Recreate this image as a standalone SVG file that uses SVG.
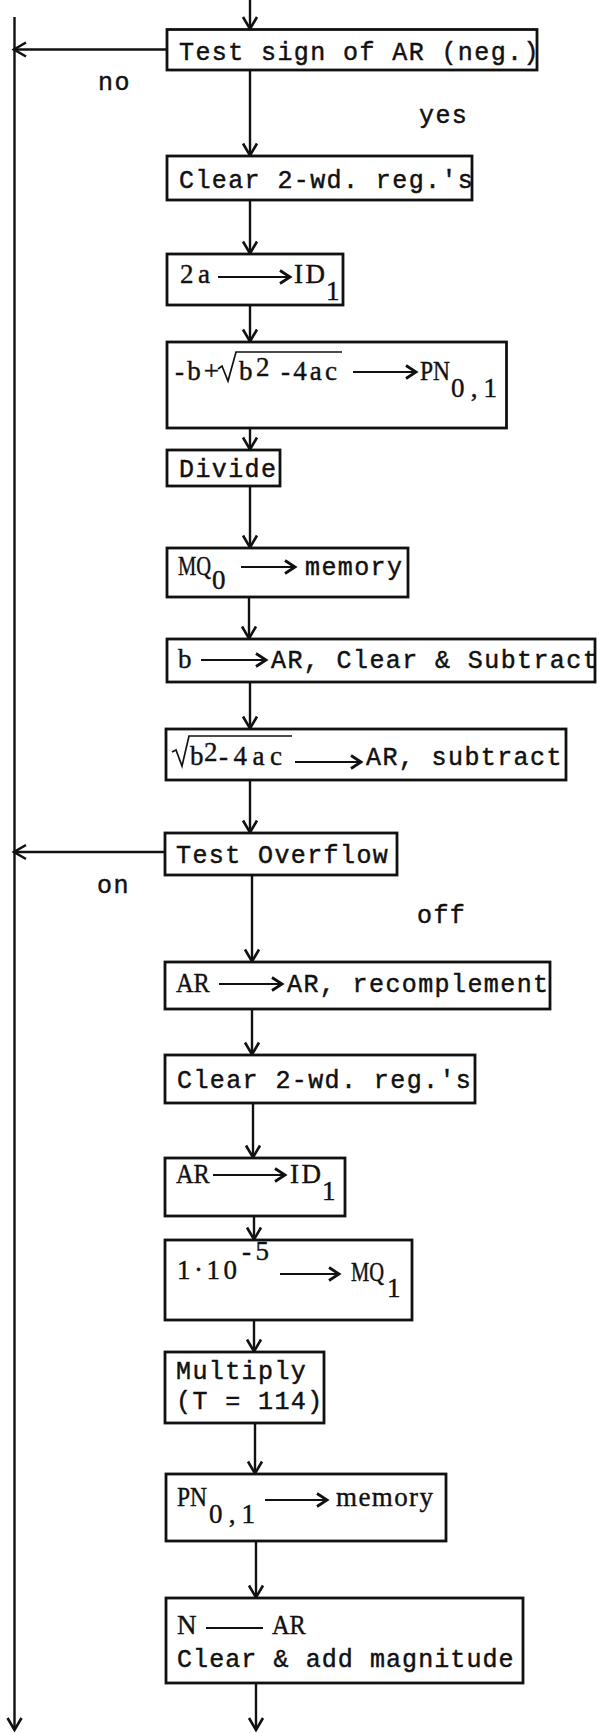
<svg xmlns="http://www.w3.org/2000/svg" width="597" height="1733" viewBox="0 0 597 1733">
  <style>
    .box { fill: #fff; stroke: #111; stroke-width: 2.8; }
    .ln { fill: none; stroke: #111; stroke-width: 2.4; }
    .ia { fill: none; stroke: #111; stroke-width: 2.2; }
    .rad { fill: none; stroke: #111; stroke-width: 1.7; }
    .m { font-family: "Liberation Mono", "DejaVu Sans Mono", monospace; font-size: 25px; letter-spacing: 1.4px; fill: #111; stroke: #111; stroke-width: 0.45; }
    .s { font-family: "Liberation Serif", "DejaVu Serif", serif; font-size: 27px; fill: #111; stroke: #111; stroke-width: 0.4; }
  </style>
  <defs>
    <marker id="arr" viewBox="-16 -12 20 24" refX="0" refY="0" markerWidth="20" markerHeight="24" markerUnits="userSpaceOnUse" orient="auto" overflow="visible">
      <path d="M-12,-7 L0,0 L-12,7" fill="none" stroke="#111" stroke-width="2.6"/>
    </marker>
    <marker id="arrs" viewBox="-14 -10 18 20" refX="0" refY="0" markerWidth="18" markerHeight="20" markerUnits="userSpaceOnUse" orient="auto" overflow="visible">
      <path d="M-10,-6.5 L0,0 L-10,6.5" fill="none" stroke="#111" stroke-width="2.8"/>
    </marker>
  </defs>

  <rect width="597" height="1733" fill="#fff"/>

  <!-- connectors -->
  <g id="connectors">
    <!-- exit rail on the left -->
    <line class="ln" x1="14.5" y1="17" x2="14.5" y2="1730" marker-end="url(#arr)"/>
    <line class="ln" x1="167" y1="49.5" x2="14" y2="49.5" marker-end="url(#arr)"/>
    <line class="ln" x1="165" y1="852" x2="14" y2="852" marker-end="url(#arr)"/>
    <!-- main flow -->
    <line class="ln" x1="250" y1="0" x2="250" y2="29" marker-end="url(#arr)"/>
    <line class="ln" x1="250" y1="70" x2="250" y2="155.5" marker-end="url(#arr)"/>
    <line class="ln" x1="250" y1="200" x2="250" y2="253.5" marker-end="url(#arr)"/>
    <line class="ln" x1="250" y1="305" x2="250" y2="341.5" marker-end="url(#arr)"/>
    <line class="ln" x1="250" y1="428" x2="250" y2="449.5" marker-end="url(#arr)"/>
    <line class="ln" x1="250" y1="486" x2="250" y2="547.5" marker-end="url(#arr)"/>
    <line class="ln" x1="249" y1="597" x2="249" y2="638.5" marker-end="url(#arr)"/>
    <line class="ln" x1="250" y1="682" x2="250" y2="728.5" marker-end="url(#arr)"/>
    <line class="ln" x1="250" y1="780" x2="250" y2="832.5" marker-end="url(#arr)"/>
    <line class="ln" x1="252" y1="875" x2="252" y2="961.5" marker-end="url(#arr)"/>
    <line class="ln" x1="252" y1="1009" x2="252" y2="1054.5" marker-end="url(#arr)"/>
    <line class="ln" x1="253" y1="1103" x2="253" y2="1157.5" marker-end="url(#arr)"/>
    <line class="ln" x1="254" y1="1216" x2="254" y2="1239.5" marker-end="url(#arr)"/>
    <line class="ln" x1="254" y1="1320" x2="254" y2="1351.5" marker-end="url(#arr)"/>
    <line class="ln" x1="255" y1="1423" x2="255" y2="1473.5" marker-end="url(#arr)"/>
    <line class="ln" x1="256" y1="1541" x2="256" y2="1597.5" marker-end="url(#arr)"/>
    <line class="ln" x1="256" y1="1683" x2="256" y2="1730" marker-end="url(#arr)"/>
  </g>

  <!-- branch labels -->
  <g id="labels">
    <text class="m" x="98" y="90">no</text>
    <text class="m" x="419" y="123">yes</text>
    <text class="m" x="97" y="893">on</text>
    <text class="m" x="417" y="923">off</text>
  </g>

  <g id="test-sign">
    <rect class="box" x="167" y="29.5" width="370" height="40.5"/>
    <text class="m" x="179" y="60">Test sign of AR (neg.)</text>
  </g>

  <g id="clear-regs-1">
    <rect class="box" x="167" y="156" width="305" height="44"/>
    <text class="m" x="179" y="188">Clear 2-wd. reg.'s</text>
  </g>

  <g id="load-2a">
    <rect class="box" x="167" y="254" width="176" height="51"/>
    <text class="s" x="180" y="283" textLength="30" lengthAdjust="spacing">2a</text>
    <line class="ia" x1="218" y1="277" x2="290" y2="277" marker-end="url(#arrs)"/>
    <text class="s" x="294" y="283" textLength="31" lengthAdjust="spacing">ID</text>
    <text class="s" x="326" y="300">1</text>
  </g>

  <g id="numerator">
    <rect class="box" x="167" y="342" width="339.5" height="86"/>
    <text class="s" x="175" y="380" textLength="44" lengthAdjust="spacing">-b+</text>
    <path class="rad" d="M218,369 L222,366 L228,381 L236,352 L342,352"/>
    <text class="s" x="239" y="380">b</text>
    <text class="s" x="256" y="376">2</text>
    <text class="s" x="281" y="380" textLength="56" lengthAdjust="spacing">-4ac</text>
    <line class="ia" x1="353" y1="372" x2="416" y2="372" marker-end="url(#arrs)"/>
    <text class="s" transform="translate(420,380) scale(0.87,1)">PN</text>
    <text class="s" x="451" y="397" textLength="46" lengthAdjust="spacing">0,1</text>
  </g>

  <g id="divide">
    <rect class="box" x="167" y="450" width="113" height="36"/>
    <text class="m" x="179" y="477">Divide</text>
  </g>

  <g id="store-mq0">
    <rect class="box" x="167" y="548" width="241" height="49"/>
    <text class="s" transform="translate(178,575) scale(0.76,1)">MQ</text>
    <text class="s" x="212" y="589">0</text>
    <line class="ia" x1="241" y1="567" x2="295" y2="567" marker-end="url(#arrs)"/>
    <text class="m" x="305" y="575">memory</text>
  </g>

  <g id="load-b">
    <rect class="box" x="167" y="639" width="428" height="43"/>
    <text class="s" x="178" y="668">b</text>
    <line class="ia" x1="201" y1="660" x2="266" y2="660" marker-end="url(#arrs)"/>
    <text class="m" x="271" y="668">AR, Clear &amp; Subtract</text>
  </g>

  <g id="subtract-root">
    <rect class="box" x="166" y="729" width="400" height="51"/>
    <path class="rad" d="M172,752 L176,750 L182,766 L189,736 L292,736"/>
    <text class="s" x="190" y="765">b</text>
    <text class="s" x="204" y="761">2</text>
    <text class="s" x="219" y="765" textLength="63" lengthAdjust="spacing">-4ac</text>
    <line class="ia" x1="295" y1="762" x2="361" y2="762" marker-end="url(#arrs)"/>
    <text class="m" x="366" y="765">AR, subtract</text>
  </g>

  <g id="test-overflow">
    <rect class="box" x="165" y="833" width="232" height="42"/>
    <text class="m" x="176" y="863">Test Overflow</text>
  </g>

  <g id="recomplement">
    <rect class="box" x="165" y="962" width="385" height="47"/>
    <text class="s" transform="translate(176,992) scale(0.9,1)">AR</text>
    <line class="ia" x1="219" y1="984" x2="282" y2="984" marker-end="url(#arrs)"/>
    <text class="m" x="287" y="992">AR, recomplement</text>
  </g>

  <g id="clear-regs-2">
    <rect class="box" x="165" y="1055" width="310" height="48"/>
    <text class="m" x="177" y="1088">Clear 2-wd. reg.'s</text>
  </g>

  <g id="load-ar">
    <rect class="box" x="165" y="1158" width="180" height="58"/>
    <text class="s" transform="translate(176,1183) scale(0.9,1)">AR</text>
    <line class="ia" x1="213" y1="1175" x2="285" y2="1175" marker-end="url(#arrs)"/>
    <text class="s" x="290" y="1183" textLength="31" lengthAdjust="spacing">ID</text>
    <text class="s" x="322" y="1200">1</text>
  </g>

  <g id="load-epsilon">
    <rect class="box" x="165" y="1240" width="247" height="80"/>
    <text class="s" x="177" y="1279" textLength="60" lengthAdjust="spacing">1·10</text>
    <text class="s" x="242" y="1260" textLength="27" lengthAdjust="spacing">-5</text>
    <line class="ia" x1="280" y1="1274" x2="339" y2="1274" marker-end="url(#arrs)"/>
    <text class="s" transform="translate(351,1281) scale(0.76,1)">MQ</text>
    <text class="s" x="387" y="1297">1</text>
  </g>

  <g id="multiply">
    <rect class="box" x="165" y="1352" width="159" height="71"/>
    <text class="m" x="176" y="1379">Multiply</text>
    <text class="m" x="176" y="1409">(T = 114)</text>
  </g>

  <g id="store-pn">
    <rect class="box" x="166" y="1474" width="280" height="67"/>
    <text class="s" transform="translate(177,1506) scale(0.87,1)">PN</text>
    <text class="s" x="209" y="1523" textLength="46" lengthAdjust="spacing">0,1</text>
    <line class="ia" x1="265" y1="1500" x2="327" y2="1500" marker-end="url(#arrs)"/>
    <text class="s" x="336" y="1506" textLength="97" lengthAdjust="spacing">memory</text>
  </g>

  <g id="add-magnitude">
    <rect class="box" x="166" y="1598" width="357" height="85"/>
    <text class="s" x="177" y="1634">N</text>
    <line class="ia" x1="206" y1="1628" x2="263" y2="1628"/>
    <text class="s" transform="translate(272,1634) scale(0.9,1)">AR</text>
    <text class="m" x="177" y="1667" textLength="338">Clear &amp; add magnitude</text>
  </g>
</svg>
